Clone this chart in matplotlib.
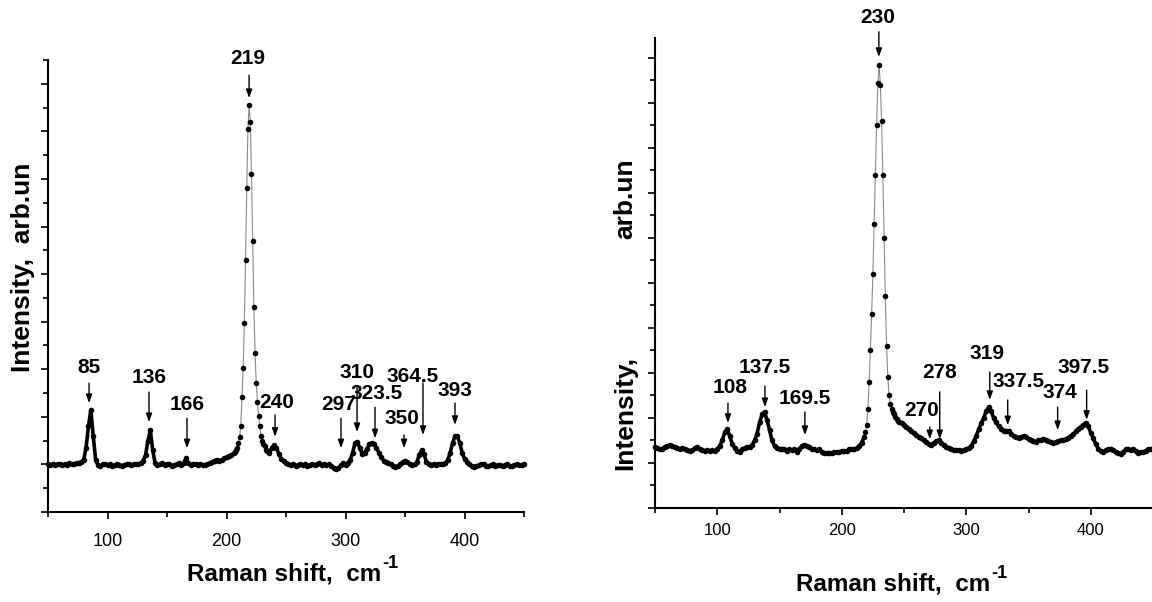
import numpy as np
import matplotlib
matplotlib.use("Agg")
import matplotlib.pyplot as plt
from matplotlib.ticker import MultipleLocator, NullFormatter

plt.rcParams['font.family'] = ['Liberation Sans Narrow', 'Liberation Sans', 'DejaVu Sans']

# ── spectrum A (left), intensity in major-tick units ─────────────────────────

a_lo = [1.00, 0.98, 1.00, 0.99, 1.00, 1.01, 0.98, 1.00, 0.99, 1.02,   # 50..68
        1.00, 1.01, 1.03, 1.02, 1.05, 1.10, 1.35, 1.80, 2.15, 1.60,   # 70..88
        1.10, 0.98, 0.97, 1.00, 1.01, 0.99, 1.00, 0.97, 0.99, 1.00,   # 90..108
        0.98, 0.97, 0.99, 1.00, 1.01, 0.98, 1.00, 1.01, 1.00, 1.03,   # 110..128
        1.08, 1.20, 1.50, 1.72, 1.30, 1.02, 0.98, 1.00, 1.02, 0.99,   # 130..148
        1.01, 1.00, 0.97, 0.99, 1.00, 1.02, 0.98, 1.03, 1.13, 1.03,   # 150..168
        0.99, 1.00, 1.01, 0.99, 1.00, 0.98, 0.99, 1.00, 1.03, 1.05,   # 170..188
        1.08, 1.10, 1.07, 1.10, 1.13, 1.15, 1.17, 1.20]               # 190..204
a_peak = [1.25, 1.27, 1.30, 1.35, 1.45, 1.58, 1.80, 2.42, 3.03, 3.97,  # 206..215
          5.30, 6.80, 8.05, 8.55, 8.20, 7.10, 5.70, 4.30, 3.34, 2.71,  # 216..225
          2.31, 2.02, 1.80, 1.60, 1.50, 1.42, 1.38, 1.30, 1.28]        # 226..234
a_hi = [1.25, 1.35, 1.40, 1.35, 1.22, 1.12, 1.07, 1.03, 1.00, 0.98,   # 236..254
        1.00, 0.97, 0.98, 1.00, 0.99, 1.00, 0.97, 0.99, 1.00, 0.98,   # 256..274
        1.00, 1.02, 0.99, 1.00, 0.98, 1.00, 0.97, 0.93, 0.90, 0.92,   # 276..294
        0.98, 1.02, 0.98, 1.03, 1.10, 1.25, 1.45, 1.47, 1.35, 1.22,   # 296..314
        1.25, 1.32, 1.42, 1.45, 1.42, 1.35, 1.25, 1.15, 1.08, 1.05,   # 316..334
        1.02, 1.00, 0.97, 0.95, 0.97, 1.00, 1.05, 1.08, 1.05, 1.00,   # 336..354
        0.98, 1.00, 1.05, 1.20, 1.30, 1.22, 1.05, 1.00, 0.99, 1.00,   # 356..374
        0.98, 1.00, 1.00, 1.00, 1.02, 1.10, 1.25, 1.45, 1.60, 1.60,   # 376..394
        1.45, 1.25, 1.12, 1.05, 1.00, 0.97, 0.95, 0.96, 0.98, 1.00,   # 396..414
        1.00, 0.97, 0.96, 0.98, 1.00, 0.97, 0.99, 0.98, 0.96, 0.98,   # 416..434
        1.00, 0.97, 0.96, 0.99, 1.00, 0.98, 0.99, 1.00]               # 436..450

# ── spectrum B (right) ───────────────────────────────────────────────────────

b_lo = [1.35, 1.33, 1.30, 1.32, 1.36, 1.38, 1.40, 1.38, 1.35, 1.33,   # 50..68
        1.30, 1.33, 1.30, 1.28, 1.27, 1.28, 1.33, 1.36, 1.30, 1.28,   # 70..88
        1.27, 1.28, 1.26, 1.28, 1.27, 1.30, 1.38, 1.50, 1.68, 1.76,   # 90..108
        1.60, 1.43, 1.33, 1.27, 1.25, 1.30, 1.33, 1.36, 1.36, 1.40,   # 110..128
        1.50, 1.65, 1.90, 2.08, 2.13, 1.95, 1.73, 1.50, 1.38, 1.33,   # 130..148
        1.30, 1.32, 1.30, 1.27, 1.30, 1.28, 1.30, 1.25, 1.32, 1.38,   # 150..168
        1.41, 1.38, 1.35, 1.32, 1.30, 1.28, 1.30, 1.25, 1.22, 1.22,   # 170..188
        1.23, 1.22, 1.24, 1.25, 1.24, 1.26, 1.27, 1.27, 1.30, 1.31,   # 190..208
        1.30, 1.33, 1.38, 1.45, 1.58]                                 # 210..218
b_peak = [1.68, 1.85, 2.20, 2.80, 3.50, 4.30, 5.20, 6.30, 7.40, 8.50,  # 219..228
          9.45, 9.84, 9.40, 8.60, 7.40, 6.00, 4.70, 3.60, 2.90, 2.50,  # 229..238
          2.30, 2.20, 2.14, 2.08, 2.03, 1.98, 1.94]                    # 239..245
b_hi = [1.92, 1.88, 1.84, 1.80, 1.76, 1.72, 1.66, 1.62, 1.58, 1.55,   # 246..264
        1.50, 1.47, 1.42, 1.41, 1.44, 1.48, 1.50, 1.45, 1.40, 1.36,   # 266..284
        1.33, 1.30, 1.28, 1.29, 1.28, 1.27, 1.29, 1.30, 1.33, 1.38,   # 286..304
        1.48, 1.60, 1.75, 1.88, 2.00, 2.15, 2.24, 2.15, 2.00, 1.90,   # 306..324
        1.82, 1.75, 1.72, 1.72, 1.70, 1.65, 1.60, 1.58, 1.56, 1.58,   # 326..344
        1.60, 1.57, 1.53, 1.50, 1.48, 1.47, 1.50, 1.52, 1.53, 1.52,   # 346..364
        1.48, 1.46, 1.44, 1.46, 1.48, 1.50, 1.51, 1.53, 1.56, 1.60,   # 366..384
        1.64, 1.70, 1.76, 1.80, 1.85, 1.89, 1.82, 1.67, 1.55, 1.42,   # 386..404
        1.32, 1.26, 1.24, 1.28, 1.30, 1.32, 1.28, 1.25, 1.22, 1.20,   # 406..424
        1.25, 1.30, 1.32, 1.28, 1.32, 1.27, 1.22, 1.25, 1.24, 1.27,   # 426..444
        1.30, 1.32, 1.30]                                             # 446..450

# sampling grids (cm-1)
a_xlo = 50 + 2 * np.arange(len(a_lo))
a_xpk = 206 + np.arange(len(a_peak))
a_xhi = 236 + 2 * np.arange(len(a_hi))
b_xlo = 50 + 2 * np.arange(len(b_lo))
b_xpk = 219 + np.arange(len(b_peak))
b_xhi = 246 + 2 * np.arange(len(b_hi))

# ── peak labels: (label, text x, text y, arrow x, arrow tail y, arrow tip y) ─

a_labels = [("85", 84.5, 3.03, 84.5, 2.71, 2.29),
            ("136", 134.9, 2.82, 134.9, 2.52, 1.89),
            ("166", 166.8, 2.25, 166.8, 1.97, 1.34),
            ("219", 218.0, 9.54, 219.0, 9.18, 8.70),
            ("240", 242.4, 2.31, 240.8, 2.04, 1.58),
            ("297", 294.5, 2.25, 296.2, 1.97, 1.34),
            ("310", 309.7, 2.94, 309.7, 2.63, 1.68),
            ("323.5", 326.5, 2.50, 324.8, 2.20, 1.55),
            ("350", 347.5, 1.97, 349.2, 1.62, 1.34),
            ("364.5", 356.7, 2.84, 365.1, 2.71, 1.62),
            ("393", 392.0, 2.56, 392.0, 2.29, 1.83)]
b_labels = [("108", 110.2, 2.67, 108.6, 2.33, 1.89),
            ("137.5", 138.3, 3.13, 138.3, 2.71, 2.24),
            ("169.5", 170.4, 2.44, 170.4, 2.13, 1.62),
            ("230", 229.0, 10.89, 229.8, 10.58, 10.02),
            ("270", 264.3, 2.16, 270.7, 1.80, 1.53),
            ("278", 278.7, 3.02, 278.7, 2.58, 1.53),
            ("319", 316.5, 3.44, 318.9, 3.02, 2.40),
            ("337.5", 342.1, 2.82, 333.3, 2.40, 1.84),
            ("374", 375.0, 2.56, 373.4, 2.24, 1.73),
            ("397.5", 394.3, 3.13, 396.7, 2.62, 1.96)]

# ── figure ───────────────────────────────────────────────────────────────────

fig = plt.figure(figsize=(11.52, 6.02), dpi=100)
ax1 = fig.add_axes([48 / 1152, 90 / 602, 476 / 1152, 452 / 602])
ax2 = fig.add_axes([655 / 1152, 94 / 602, 498 / 1152, 470 / 602])


def style(ax, ytop, ticksize, tickpad):
    ax.set_xlim(50, 450)
    ax.set_ylim(0, ytop)
    for s in ("top", "right"):
        ax.spines[s].set_visible(False)
    for s in ("left", "bottom"):
        ax.spines[s].set_linewidth(1.5)
    ax.xaxis.set_major_locator(MultipleLocator(100))
    ax.xaxis.set_minor_locator(MultipleLocator(50))
    ax.yaxis.set_major_locator(MultipleLocator(1))
    ax.yaxis.set_minor_locator(MultipleLocator(0.5))
    ax.yaxis.set_major_formatter(NullFormatter())
    ax.tick_params(which="major", length=5, width=1.2, direction="out",
                   labelsize=ticksize, pad=tickpad)
    ax.tick_params(which="minor", length=3.5, width=1.2, direction="out")


def draw(ax, xlo, ylo, xpk, ypk, xhi, yhi, labels):
    x = np.concatenate([xlo, xpk, xhi])
    y = np.array(ylo + ypk + yhi)
    ax.plot(x, y, color="#8a8a8a", lw=0.8, zorder=2, clip_on=False)
    # dense flat parts read as a thick dark trace
    ax.plot(xlo, ylo, color="black", lw=2.6, zorder=3, clip_on=False)
    ax.plot(xhi, yhi, color="black", lw=2.6, zorder=3, clip_on=False)
    ax.plot(x, y, ls="none", marker="o", ms=4.0, color="black",
            markeredgewidth=0, zorder=4, clip_on=False)
    for lab, tx, ty, axx, tail, tip in labels:
        ax.annotate("", xy=(axx, tip), xytext=(axx, tail),
                    arrowprops=dict(arrowstyle="-|>,head_length=0.5,head_width=0.18",
                                    color="black", lw=1.0, shrinkA=0, shrinkB=0),
                    annotation_clip=False)
        ax.text(tx, ty, lab, ha="center", va="center", fontsize=15,
                fontweight="bold", clip_on=False)


draw(ax1, a_xlo, a_lo, a_xpk, a_peak, a_xhi, a_hi, a_labels)
draw(ax2, b_xlo, b_lo, b_xpk, b_peak, b_xhi, b_hi, b_labels)
style(ax1, 9.5, 13, 10)
style(ax2, 10.44, 12, 6)


# axis titles (superscript drawn as its own small text next to "cm")
def xtitle(ax, cx, cy):
    t = fig.text(cx / 1152, 1 - cy / 602, "Raman shift,  cm", ha="center",
                 va="center", fontsize=17.5, fontweight="bold")
    ax.annotate("-1", xy=(1.0, 0.6), xycoords=t, xytext=(1, 0),
                textcoords="offset points", ha="left", va="bottom",
                fontsize=13, fontweight="bold", annotation_clip=False)


xtitle(ax1, 284, 574)
xtitle(ax2, 893, 584)

fig.text(23 / 1152, 1 - 267 / 602, "Intensity,  arb.un", rotation=90,
         ha="center", va="center", fontsize=19, fontweight="bold")
fig.text(625 / 1152, 1 - 413 / 602, "Intensity,", rotation=90,
         ha="center", va="center", fontsize=19, fontweight="bold")
fig.text(625 / 1152, 1 - 199 / 602, "arb.un", rotation=90,
         ha="center", va="center", fontsize=19, fontweight="bold")

fig.savefig("out.png", dpi=100)
